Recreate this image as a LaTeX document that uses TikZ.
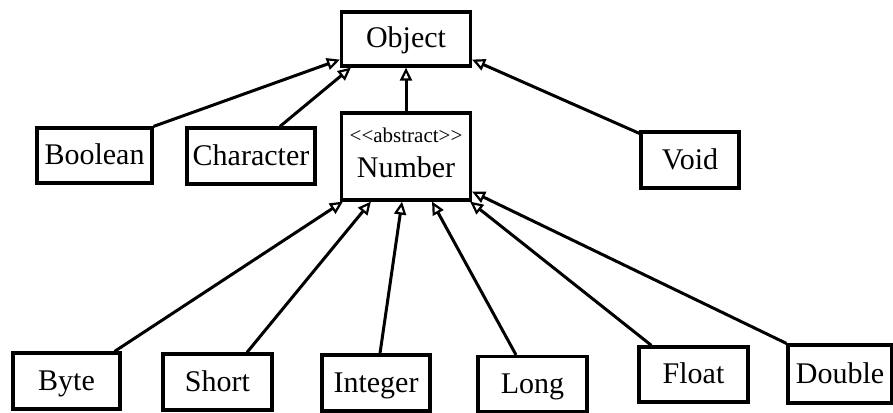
\documentclass[tikz,border=0pt]{standalone}
\usepackage{fontspec}
\setmainfont{Liberation Serif}
\usetikzlibrary{arrows.meta,calc}
\begin{document}
\begin{tikzpicture}[x=1pt,y=-1pt,
  box/.style={draw, line width=3.2pt, fill=white, inner sep=0pt,
    font=\fontsize{30}{34}\selectfont, text height=22pt, text depth=4pt},
  plain/.style={inner sep=0pt},
  inh/.style={line width=3pt,
    -{Triangle[open, length=13pt, width=12pt, line width=2.2pt]}}]
\useasboundingbox (0,0) rectangle (893,412);
\fill[white] (0,0) rectangle (893,412);

% top level
\node[box, minimum width=129, minimum height=54] (object) at (406,39) {Object};

% second level
\node[box, minimum width=115, minimum height=55] (boolean) at (94.5,155.5) {Boolean};
\node[box, minimum width=128, minimum height=56] (character) at (251,156) {Character};
\node[box, minimum width=129, minimum height=87] (number) at (406,156.5) {};
\node[plain, font=\fontsize{21}{22}\selectfont] (numstereo) at (406,135) {{<}{<}abstract{>}{>}};
\node[plain, font=\fontsize{30}{34}\selectfont] (numname) at (406,167.5) {Number};
\node[box, minimum width=98, minimum height=56] (void) at (690,160) {Void};

% third level
\node[box, minimum width=107, minimum height=56] (byte) at (66.5,381) {Byte};
\node[box, minimum width=109, minimum height=56] (short) at (217.5,382) {Short};
\node[box, minimum width=108, minimum height=56] (integer) at (376,383) {Integer};
\node[box, minimum width=109, minimum height=55] (long) at (532.5,384) {Long};
\node[box, minimum width=109, minimum height=55] (float) at (693.5,374.5) {Float};
\node[box, minimum width=104, minimum height=58] (double) at (840,374) {Double};

% inheritance connectors to Object
\draw[inh] (boolean.north east) -- ($(object.south west)+(0,-8)$);
\draw[inh] ($(character.north)+(29,0)$) -- ($(object.south west)+(11,0)$);
\draw[inh] (number.north) -- (object.south);
\draw[inh] ($(void.north west)+(0,3)$) -- ($(object.south east)+(0,-8)$);

% inheritance connectors to Number
\draw[inh] ($(byte.north east)+(-7,0)$) -- ($(number.south west)+(3,0)$);
\draw[inh] ($(short.north)+(29.5,0)$) -- ($(number.south west)+(31,0)$);
\draw[inh] ($(integer.north)+(4,0)$) -- ($(number.south)+(-4,0)$);
\draw[inh] ($(long.north)+(-16.5,0)$) -- ($(number.south)+(26,0)$);
\draw[inh] ($(float.north west)+(14,0)$) -- ($(number.south east)+(-2,0)$);
\draw[inh] (double.north west) -- ($(number.south east)+(0,-10)$);
\end{tikzpicture}
\end{document}
